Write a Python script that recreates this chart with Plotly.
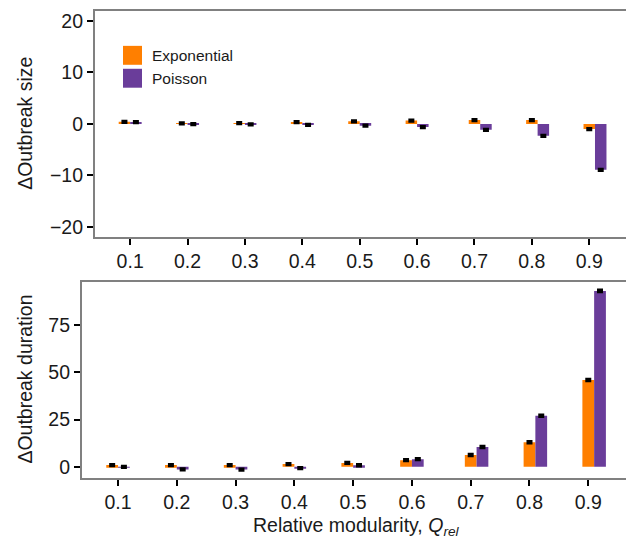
import plotly.graph_objects as go

# ---- data ----
q_labels = ["0.1", "0.2", "0.3", "0.4", "0.5", "0.6", "0.7", "0.8", "0.9"]
q_ticks = [0.1, 0.2, 0.3, 0.4, 0.5, 0.6, 0.7, 0.8, 0.9]
q_pos = [0.1, 0.2, 0.3, 0.4, 0.5, 0.6, 0.71, 0.81, 0.91]

size_exp = [0.4, 0.1, 0.15, 0.35, 0.5, 0.65, 0.75, 0.75, -1.0]
size_poi = [0.35, -0.05, -0.1, -0.2, -0.35, -0.6, -1.15, -2.3, -8.9]
size_exp_se = [0.12, 0.12, 0.12, 0.12, 0.12, 0.12, 0.12, 0.12, 0.12]
size_poi_se = [0.12, 0.12, 0.12, 0.12, 0.12, 0.12, 0.12, 0.12, 0.12]

dur_exp = [0.9, 0.9, 0.9, 1.4, 2.0, 3.5, 6.2, 13.0, 46.0]
dur_poi = [-0.1, -1.4, -1.5, -0.7, 0.8, 4.0, 10.4, 27.0, 93.2]
dur_exp_se = [0.35, 0.35, 0.35, 0.35, 0.35, 0.35, 0.4, 0.4, 0.4]
dur_poi_se = [0.35, 0.35, 0.35, 0.35, 0.35, 0.35, 0.4, 0.4, 0.45]

series_names = ["Exponential", "Poisson"]
colors = ["#FF7F00", "#6A3D9A"]

# page body has an 8px margin: figure drawn at (8, 8)
OFF = 8
W, H = 634 - OFF, 544 - OFF
FONT = "Liberation Sans, Arial, sans-serif"


def px(x):
    return (x - OFF) / W


def py(y):
    return 1 - (y - OFF) / H


fig = go.Figure()


def add_pair(vals_a, se_a, vals_b, se_b, xa, ya):
    for vals, se, col, off in [(vals_a, se_a, colors[0], -0.02), (vals_b, se_b, colors[1], 0.0)]:
        fig.add_trace(go.Bar(
            x=q_pos, y=vals, width=0.02, offset=off,
            marker=dict(color=col, line=dict(width=0)),
            error_y=dict(type="data", array=se, color="black", thickness=3, width=3),
            xaxis=xa, yaxis=ya, showlegend=False,
        ))


add_pair(size_exp, size_exp_se, size_poi, size_poi_se, "x", "y")
add_pair(dur_exp, dur_exp_se, dur_poi, dur_poi_se, "x2", "y2")

border = "#808080"
common_x = dict(range=[0.0382, 0.971], tickvals=q_ticks, ticktext=q_labels,
                showline=True, mirror=True, linecolor=border, linewidth=1.5,
                ticks="outside", ticklen=6, tickwidth=2, tickcolor="black",
                showgrid=False, zeroline=False,
                tickfont=dict(family=FONT, size=19.5, color="#1a1a1a"))
common_y = dict(showline=True, mirror=True, linecolor=border, linewidth=1.5,
                ticks="outside", ticklen=6, tickwidth=2, tickcolor="black",
                showgrid=False, zeroline=False,
                tickfont=dict(family=FONT, size=19.5, color="#1a1a1a"))

fig.update_layout(
    width=W, height=H,
    margin=dict(l=0, r=0, t=0, b=0),
    paper_bgcolor="white", plot_bgcolor="white",
    barmode="overlay",
    showlegend=False,
    xaxis=dict(domain=[px(94.7), px(630)], anchor="y", **common_x),
    yaxis=dict(domain=[py(236.7), py(10)], anchor="x",
               range=[-21.9, 21.9], tickvals=[-20, -10, 0, 10, 20], **common_y),
    xaxis2=dict(domain=[px(81.7), px(630)], anchor="y2", **common_x),
    yaxis2=dict(domain=[py(479), py(281.7)], anchor="x2",
                range=[-6.1, 98.1], tickvals=[0, 25, 50, 75], **common_y),
)

# y titles
fig.add_annotation(text="ΔOutbreak size", xref="paper", yref="paper",
                   x=px(25), y=py(123.3), textangle=-90, showarrow=False,
                   font=dict(family=FONT, size=19.5, color="#1a1a1a"),
                   xanchor="center", yanchor="middle")
fig.add_annotation(text="ΔOutbreak duration", xref="paper", yref="paper",
                   x=px(25), y=py(380), textangle=-90, showarrow=False,
                   font=dict(family=FONT, size=19.5, color="#1a1a1a"),
                   xanchor="center", yanchor="middle")
# x title
fig.add_annotation(text="Relative modularity, <i>Q</i><sub><i>rel</i></sub>",
                   xref="paper", yref="paper", x=px(356), y=py(527), 
                   showarrow=False, xanchor="center", yanchor="middle",
                   font=dict(family=FONT, size=19.5, color="#1a1a1a"))

# legend (drawn as keys + labels)
key_tops = [45, 68]
for name, col, top in zip(series_names, colors, key_tops):
    fig.add_shape(type="rect", xref="paper", yref="paper",
                  x0=px(123), x1=px(142), y0=py(top + 19), y1=py(top),
                  fillcolor=col, line=dict(width=0))
    fig.add_annotation(text=name, xref="paper", yref="paper",
                       x=px(150), y=py(top + 9.5), showarrow=False,
                       xanchor="left", yanchor="middle",
                       font=dict(family=FONT, size=15.5, color="#1a1a1a"))

fig.write_html("out.html")
